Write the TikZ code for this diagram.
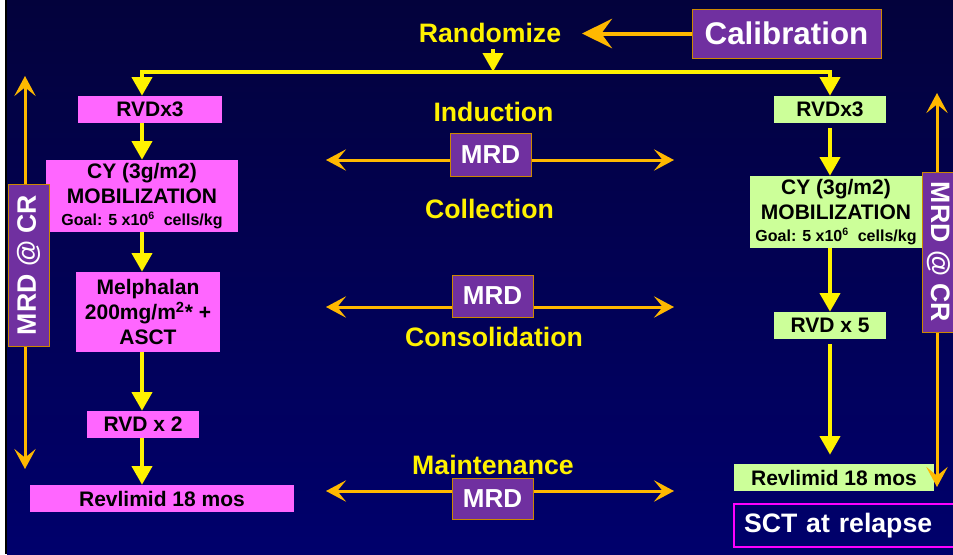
\documentclass[tikz,border=0pt]{standalone}
\usepackage{fontspec}
\setmainfont{Liberation Sans}
\usetikzlibrary{arrows.meta}

\definecolor{boxpink}{RGB}{255,102,255}
\definecolor{boxgreen}{RGB}{204,255,153}
\definecolor{mrdpurple}{RGB}{112,48,160}
\definecolor{mrdedge}{RGB}{204,136,0}
\definecolor{linkorange}{RGB}{255,184,0}
\definecolor{relapsepink}{RGB}{255,0,255}
\definecolor{bgtop}{RGB}{3,2,60}
\definecolor{bgbottom}{RGB}{0,0,108}

\tikzset{
  stage/.style={font=\bfseries\fontsize{15.75}{18.75}\selectfont, text=black, align=center, inner sep=0pt},
  pinkbox/.style={stage, fill=boxpink},
  greenbox/.style={stage, fill=boxgreen},
  phase/.style={font=\bfseries\fontsize{20}{24}\selectfont, text=yellow, inner sep=0pt},
  mrdbox/.style={fill=mrdpurple, draw=mrdedge, line width=0.75pt, text=white,
    font=\bfseries\fontsize{19.5}{23}\selectfont, inner sep=0pt},
  flow/.style={draw=yellow, line width=3pt, -{Triangle[length=14pt,width=15pt]}},
  mrdlink/.style={draw=linkorange, line width=2.25pt, -{Stealth[length=15pt,width=16pt,inset=6.5pt]}},
  calarrow/.style={draw=linkorange, line width=3pt, -{Stealth[length=22.5pt,width=22pt,inset=8pt]}},
}

\newcommand{\goalline}{{\fontsize{12}{15}\selectfont Goal: 5 x10\textsuperscript{6}\ \ cells/kg}}

\begin{document}
\begin{tikzpicture}[x=0.75pt,y=-0.75pt]  % 一个像素一个单位

    % 画布与背景
    \useasboundingbox (0,0) rectangle (953,554);
    \clip (0,0) rectangle (953,554);
    \fill[white] (0,0) rectangle (5,554);
    \fill[black] (5,0) rectangle (7,554);
    \shade[top color=bgtop, bottom color=bgbottom] (7,0) rectangle (953,554);

    % 两列箭头所在的竖线
    \coordinate (lcol) at (142,0);
    \coordinate (rcol) at (830,0);

    % 随机分组
    \node[phase] (rand) at (490,32.5) {Randomize};
    \node[mrdbox, font=\bfseries\fontsize{23.5}{28}\selectfont,
          minimum width=141.75pt, minimum height=36.75pt] (calib) at (786.5,33.5) {Calibration};
    \coordinate (randtip) at (582,33.5);
    \coordinate (randfoot) at (493,49);
    \coordinate (split) at (493,71.7);

    % 左列（粉色）
    \node[pinkbox, minimum width=108pt, minimum height=20.25pt] (lRVD) at (150,109.5) {RVDx3};
    \node[pinkbox, minimum width=144pt, minimum height=54pt] (lCY) at (142,196) {CY (3g/m2)\\MOBILIZATION\\[-2pt]\goalline};
    \node[pinkbox, minimum width=108pt, minimum height=60pt] (lMel) at (148,312) {Melphalan\\200mg/m\textsuperscript{2}* +\\ASCT};
    \node[pinkbox, minimum width=84pt, minimum height=20.25pt] (lRVDb) at (143,424.5) {RVD x 2};
    \node[pinkbox, minimum width=198pt, minimum height=20.25pt] (lRev) at (162,498.5) {Revlimid 18 mos};

    % 右列（绿色）
    \node[greenbox, minimum width=84pt, minimum height=20.25pt] (rRVD) at (830,109.5) {RVDx3};
    \node[greenbox, minimum width=129pt, minimum height=54pt] (rCY) at (836,212) {CY (3g/m2)\\MOBILIZATION\\[-2pt]\goalline};
    \node[greenbox, minimum width=84pt, minimum height=20.25pt] (rRVDb) at (830,325.5) {RVD x 5};
    \node[greenbox, minimum width=150pt, minimum height=20.25pt] (rRev) at (834,477.5) {Revlimid 18 mos};
    \node[draw=relapsepink, line width=1.5pt, anchor=west, inner xsep=7.5pt, inner ysep=0pt,
          text width=157.5pt, minimum height=32.25pt, align=left, text=white,
          font=\bfseries\fontsize{20}{24}\selectfont] (sct) at (733,525.5) {SCT at relapse};

    % 中间的阶段名称
    \node[phase] (induct) at (493.5,112) {Induction};
    \node[phase] (collect) at (489.5,209) {Collection};
    \node[phase] (consol) at (494,336.5) {Consolidation};
    \node[phase] (maint) at (493,464.5) {Maintenance};

    % 三个 MRD 框
    \node[mrdbox, minimum width=60.75pt, minimum height=32.25pt] (mrdA) at (490.5,154.5) {MRD};
    \node[mrdbox, minimum width=60.75pt, minimum height=31.5pt] (mrdB) at (492.5,296) {MRD};
    \node[mrdbox, minimum width=60.75pt, minimum height=30.75pt] (mrdC) at (492.5,498.5) {MRD};

    % 两侧的 MRD @ CR
    \node[mrdbox, font=\bfseries\fontsize{20}{24}\selectfont,
          minimum width=30.75pt, minimum height=121.5pt] (lcr) at (28.5,265) {\rotatebox{90}{MRD @ CR}};
    \node[mrdbox, font=\bfseries\fontsize{20}{24}\selectfont, anchor=west,
          minimum width=24pt, minimum height=120pt] (rcr) at (922,252) {\rotatebox{-90}{MRD @ CR}};

    % 随机分组的连线
    \draw[calarrow] (calib.west) -- (randtip);
    \draw[flow] (randfoot) -- (split);
    \draw[flow] (split) -| (lRVD.north -| lcol);
    \draw[flow] (split) -| (rRVD.north);

    % 左列箭头
    \draw[flow] (lRVD.south -| lcol) -- (lCY.north -| lcol);
    \draw[flow] (lCY.south -| lcol) -- (lMel.north -| lcol);
    \draw[flow] (lMel.south -| lcol) -- (lRVDb.north -| lcol);
    \draw[flow] (lRVDb.south -| lcol) -- (lRev.north -| lcol);

    % 右列箭头
    \draw[flow, shorten <=3.75pt] (rRVD.south) -- (rCY.north -| rcol);
    \draw[flow] (rCY.south -| rcol) -- (rRVDb.north);
    \draw[flow, shorten <=3.75pt, shorten >=6.75pt] (rRVDb.south) -- (rRev.north -| rcol);

    % MRD 双向箭头
    \coordinate (aL) at (326,160);   \coordinate (aR) at (674,160);
    \coordinate (bL) at (326,307);   \coordinate (bR) at (674,307);
    \coordinate (cL) at (326,491);   \coordinate (cR) at (674,491);
    \draw[mrdlink] (mrdA.west |- aL) -- (aL);
    \draw[mrdlink] (mrdA.east |- aR) -- (aR);
    \draw[mrdlink] (mrdB.west |- bL) -- (bL);
    \draw[mrdlink] (mrdB.east |- bR) -- (bR);
    \draw[mrdlink] (mrdC.west |- cL) -- (cL);
    \draw[mrdlink] (mrdC.east |- cR) -- (cR);

    % MRD @ CR 上下箭头
    \coordinate (lcrTop) at (25,76);   \coordinate (lcrBot) at (25,469);
    \coordinate (rcrTop) at (937,93);  \coordinate (rcrBot) at (937,487);
    \draw[mrdlink] (lcr.north -| lcrTop) -- (lcrTop);
    \draw[mrdlink] (lcr.south -| lcrBot) -- (lcrBot);
    \draw[mrdlink] (rcr.north -| rcrTop) -- (rcrTop);
    \draw[mrdlink] (rcr.south -| rcrBot) -- (rcrBot);

\end{tikzpicture}
\end{document}
